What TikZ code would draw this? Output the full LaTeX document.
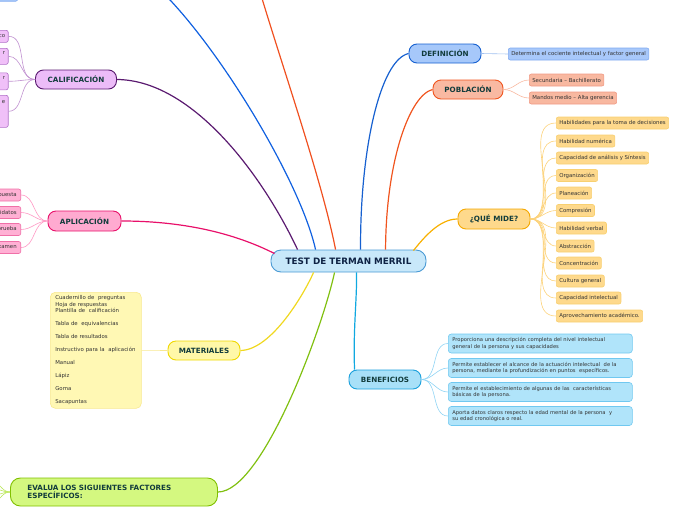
\documentclass[tikz,border=0pt]{standalone}
\usepackage{fontspec}
\setmainfont{DejaVu Sans}
\usetikzlibrary{calc}
\definecolor{labelc}{HTML}{123C3C}
\definecolor{ctext}{HTML}{0E2244}
\definecolor{leaftext}{HTML}{333333}
\definecolor{cfill}{HTML}{C8E8FA}
\definecolor{cdraw}{HTML}{4A9AD4}
\definecolor{deffill}{HTML}{A6C8FA}
\definecolor{defdraw}{HTML}{1660D0}
\definecolor{defleaf}{HTML}{A8C8FA}
\definecolor{defleafd}{HTML}{80AAF0}
\definecolor{deftwig}{HTML}{A0C0F0}
\definecolor{pobfill}{HTML}{F9B9A2}
\definecolor{pobdraw}{HTML}{F0541E}
\definecolor{pobleaf}{HTML}{F8B8A0}
\definecolor{pobleafd}{HTML}{F09A84}
\definecolor{pobtwig}{HTML}{F8B8A0}
\definecolor{qmfill}{HTML}{FED98C}
\definecolor{qmdraw}{HTML}{F5A800}
\definecolor{qmleaf}{HTML}{FED98C}
\definecolor{qmleafd}{HTML}{F8D070}
\definecolor{qmtwig}{HTML}{FCD27A}
\definecolor{qmline}{HTML}{F8B000}
\definecolor{benfill}{HTML}{A8E0F8}
\definecolor{bendraw}{HTML}{1AA0DC}
\definecolor{benleaf}{HTML}{B0E4FA}
\definecolor{benleafd}{HTML}{70C8F0}
\definecolor{bentwig}{HTML}{90D4F4}
\definecolor{benline}{HTML}{10A8E0}
\definecolor{matfill}{HTML}{FFF8A8}
\definecolor{matdraw}{HTML}{F0D800}
\definecolor{matbox}{HTML}{FFF8B4}
\definecolor{matboxd}{HTML}{F8E890}
\definecolor{matline}{HTML}{F0D820}
\definecolor{evfill}{HTML}{D4F880}
\definecolor{evdraw}{HTML}{80C000}
\definecolor{evline}{HTML}{80C010}
\definecolor{aplfill}{HTML}{FFAAD0}
\definecolor{apldraw}{HTML}{E8106A}
\definecolor{aplleaf}{HTML}{FFB0D4}
\definecolor{aplleafd}{HTML}{F070A8}
\definecolor{apltwig}{HTML}{FF98C4}
\definecolor{calfill}{HTML}{ECBCF8}
\definecolor{caldraw}{HTML}{5A1A70}
\definecolor{calleaf}{HTML}{F0C0F8}
\definecolor{calleafd}{HTML}{B070C8}
\definecolor{caltwig}{HTML}{C090D0}
\definecolor{offblue}{HTML}{1060E0}
\definecolor{offorange}{HTML}{F05020}
\begin{document}
\begin{tikzpicture}[x=1pt,y=-1pt,
  mainnode/.style={draw, rounded corners=8pt, line width=0.9pt,
    font=\fontsize{7.2}{8}\selectfont\bfseries, text=labelc,
    inner sep=0pt, minimum height=19pt},
  leafnode/.style={draw, rounded corners=2pt, line width=0.6pt,
    font=\fontsize{5.4}{6.5}\selectfont, text=leaftext,
    inner xsep=3pt, inner ysep=0pt, minimum height=12pt},
  branch/.style={line width=1.2pt},
  twig/.style={line width=0.6pt}]
\useasboundingbox (0,0) rectangle (696,520);
\clip (0,0) rectangle (696,520);

% central
\node[mainnode, fill=cfill, draw=cdraw, minimum width=155pt, minimum height=22pt,
  rounded corners=10pt, font=\fontsize{8.8}{10}\selectfont\bfseries, text=ctext] (c) at (348.5,261) {TEST DE TERMAN MERRIL};

% off-canvas branches
\coordinate (offb) at (155,-15);
\coordinate (offo) at (258,-15);
\node[leafnode, fill=defleaf, draw=defleafd, minimum width=40pt, anchor=south east] (tl) at (18,1.5) {};

% DEFINICION
\node[mainnode, fill=deffill, draw=defdraw, minimum width=72pt] (def) at (445,53.5) {DEFINICIÓN};
\node[leafnode, fill=defleaf, draw=defleafd, anchor=west] (def1) at (508,54) {Determina el cociente intelectual y factor general};

% POBLACION
\node[mainnode, fill=pobfill, draw=pobdraw, minimum width=70pt] (pob) at (468,89.5) {POBLACIÓN};
\node[leafnode, fill=pobleaf, draw=pobleafd, anchor=west] (pob1) at (529,80) {Secundaria – Bachillerato};
\node[leafnode, fill=pobleaf, draw=pobleafd, anchor=west] (pob2) at (529,98) {Mandos medio – Alta gerencia};

% QUE MIDE
\node[mainnode, fill=qmfill, draw=qmdraw, minimum width=72pt, minimum height=20pt] (qm) at (494,219) {¿QUÉ MIDE?};
\foreach \n/\y/\t in {1/123/Habilidades para la toma de decisiones,
  2/141/Habilidad numérica,
  3/158/Capacidad de análisis y Síntesis,
  4/175.5/Organización,
  5/193/Planeación,
  6/210.5/Compresión,
  7/228/Habilidad verbal,
  8/246/Abstracción,
  9/263/Concentración,
  10/281/Cultura general,
  11/298/Capacidad intelectual,
  12/316/Aprovechamiento académico.}{
  \node[leafnode, fill=qmleaf, draw=qmleafd, anchor=west] (q\n) at (556,\y) {\t};
  \draw[twig, qmtwig] (qm.east) to[out=0,in=180] (q\n.west);
}

% BENEFICIOS
\node[mainnode, fill=benfill, draw=bendraw, minimum width=72pt] (ben) at (385,379.5) {BENEFICIOS};
\foreach \n/\y/\t in {1/343.5/{Proporciona una descripción completa del nivel intelectual\\general de la persona y sus capacidades},
  2/368/{Permite establecer el alcance de la actuación intelectual\ \ de la\\persona, mediante la profundización en puntos\ \ específicos.},
  3/392/{Permite el establecimiento de algunas de las\ \ características\\básicas de la persona.},
  4/416/{Aporta datos claros respecto la edad mental de la persona\ \ y\\su edad cronológica o real.}}{
  \node[leafnode, fill=benleaf, draw=benleafd, anchor=west, rounded corners=3pt,
    minimum width=184pt, minimum height=19pt, text width=176pt, align=left,
    font=\fontsize{5.2}{6.3}\selectfont] (b\n) at (448,\y) {\t};
  \draw[twig, bentwig] (ben.east) to[out=0,in=180] (b\n.west);
}

% MATERIALES
\node[mainnode, fill=matfill, draw=matdraw, minimum width=72pt] (mat) at (204,350.5) {MATERIALES};
\node[draw=matboxd, fill=matbox, line width=0.6pt, rounded corners=5pt, anchor=north west,
  minimum width=91pt, minimum height=116pt, inner xsep=5pt, inner ysep=0pt,
  text width=81pt, align=left, font=\fontsize{5.4}{6.5}\selectfont, text=leaftext] (matb) at (50,292)
  {Cuadernillo de\ \ preguntas\\Hoja de respuestas\\Plantilla de\ \ calificación\\[6.5pt]
   Tabla de\ \ equivalencias\\[6.5pt]Tabla de resultados\\[6.5pt]
   Instructivo para la\ \ aplicación\\[6.5pt]Manual\\[6.5pt]Lápiz\\[6.5pt]Goma\\[6.5pt]Sacapuntas};
\draw[twig, matboxd] (mat.west) -- (matb.east);

% EVALUA
\node[mainnode, fill=evfill, draw=evdraw, anchor=west, minimum width=207pt, minimum height=28pt,
  rounded corners=10pt, inner xsep=17pt, text width=173pt, align=left] (ev) at (10,492)
  {EVALUA LOS SIGUIENTES FACTORES\\ESPECÍFICOS:};
\coordinate (ev1) at (-10,480);
\coordinate (ev2) at (-10,488);
\coordinate (ev3) at (-10,496);
\coordinate (ev4) at (-10,504);
\foreach \k in {1,...,4}{\draw[twig, evfill!70!evdraw] (ev.west) to[out=180,in=0] (ev\k);}

% APLICACION
\node[mainnode, fill=aplfill, draw=apldraw, minimum width=73pt, minimum height=20pt] (apl) at (84.5,221) {APLICACIÓN};
\foreach \n/\y/\t in {1/195/respuesta, 2/212.5/candidatos, 3/229.5/prueba, 4/247.5/examen}{
  \node[leafnode, fill=aplleaf, draw=aplleafd, anchor=east, minimum width=40pt, align=right,
    text width=32pt] (a\n) at (21,\y) {\t};
  \draw[twig, apltwig] (apl.west) to[out=180,in=0] (a\n.east);
}

% CALIFICACION
\node[mainnode, fill=calfill, draw=caldraw, minimum width=81pt] (cal) at (76,79.5) {CALIFICACIÓN};
\node[leafnode, fill=calleaf, draw=calleafd, anchor=north east, minimum width=40pt, minimum height=12pt,
  text width=34pt, align=right] (k1) at (8.5,30) {co};
\node[leafnode, fill=calleaf, draw=calleafd, anchor=north east, minimum width=40pt, minimum height=16pt,
  text width=34pt, align=right] (k2) at (8.5,48) {r\\~};
\node[leafnode, fill=calleaf, draw=calleafd, anchor=north east, minimum width=40pt, minimum height=17pt,
  text width=34pt, align=right] (k3) at (8.5,72.5) {r\\~};
\node[leafnode, fill=calleaf, draw=calleafd, anchor=north east, minimum width=40pt, minimum height=32pt,
  text width=34pt, align=right] (k4) at (8.5,95) {e\\~\\~\\~};
\foreach \k in {1,...,4}{\draw[twig, caltwig] (cal.west) to[out=180,in=0] (k\k.east);}

% main branches
\draw[branch, caldraw] (cal.east) .. controls (190,80) and (260,170) .. ($(c.north west)+(27,0)$);
\draw[branch, offblue] (offb) .. controls (215,40) and (300,180) .. ($(c.north west)+(45,0)$);
\draw[branch, offorange] (offo) .. controls (280,60) and (322,180) .. ($(c.north west)+(65,0)$);
\draw[branch, defdraw] (def.west) .. controls (380,60) and (360,150) .. ($(c.north west)+(90,0)$);
\draw[branch, pobdraw] (pob.west) .. controls (410,95) and (386,160) .. ($(c.north west)+(115,0)$);
\draw[branch, qmline] (qm.west) .. controls (440,219) and (425,236) .. ($(c.north east)+(-13,1)$);
\draw[branch, apldraw] (apl.east) .. controls (190,221) and (240,236) .. ($(c.north west)+(4,4)$);
\draw[branch, matline] (mat.east) .. controls (272,350) and (305,292) .. ($(c.south west)+(43,0)$);
\draw[branch, evline] (ev.east) .. controls (262,492) and (322,330) .. ($(c.south west)+(64,0)$);
\draw[branch, benline] ($(ben.north west)+(6,0)$) .. controls (353,330) and (357,300) .. ($(c.south west)+(86,0)$);
\draw[twig, deftwig] (def.east) -- (def1.west);
\draw[twig, pobtwig] (pob.east) to[out=0,in=180] (pob1.west);
\draw[twig, pobtwig] (pob.east) to[out=0,in=180] (pob2.west);

% redraw main nodes on top of branches
\end{tikzpicture}
\end{document}
